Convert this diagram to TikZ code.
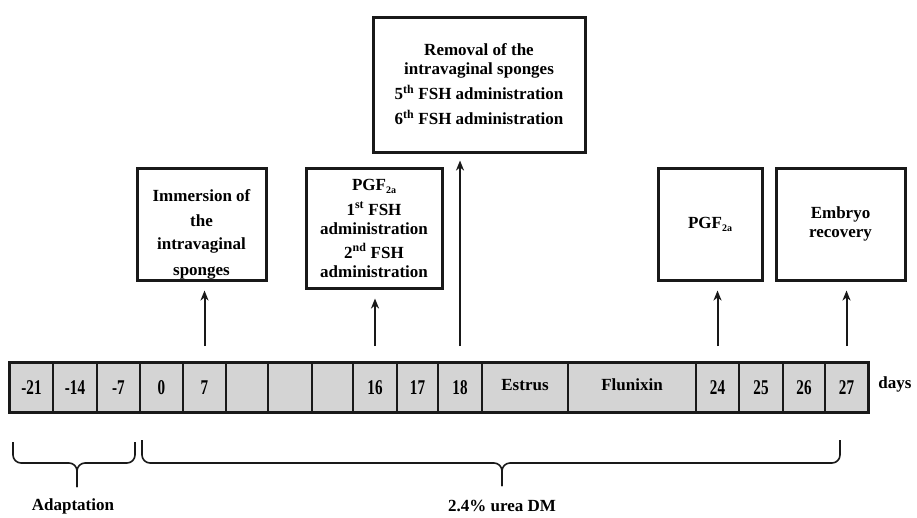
\documentclass[tikz,border=0pt]{standalone}
\usepackage{fontspec}
\setmainfont{Liberation Serif}
\usepackage{graphicx}
\usepackage{tikz}
\usetikzlibrary{arrows.meta}
\def\boxedge{3}
\def\baredge{2.4}
\def\celledge{1.6}
\def\arrowedge{2}
\definecolor{edgeblack}{rgb}{0.1,0.1,0.1}
\definecolor{cellgray}{rgb}{0.83,0.83,0.83}
\newcommand{\dayno}[1]{\scalebox{0.72}[1]{\fontsize{21}{21}\selectfont #1}}
\newcommand{\pgfsub}{PGF\raisebox{-3pt}{\fontsize{10}{10}\selectfont 2a}}

\begin{document}
\begin{tikzpicture}[x = 1pt, y = -1pt,
    daycell/.style={draw=edgeblack, line width=\celledge, fill=cellgray, minimum height=49, inner sep=0pt, font=\bfseries\fontsize{17}{17}\selectfont},
    eventbox/.style={draw=edgeblack, line width=\boxedge, inner sep=0pt, align=center, font=\bfseries\fontsize{17}{19}\selectfont},
    boxtext/.style={inner sep=0pt, align=center, font=\bfseries\fontsize{17}{19}\selectfont},
    eventarrow/.style={-{Stealth[length=10pt,width=8pt,inset=3pt]}, line width=\arrowedge, color=edgeblack, shorten <=16pt},
    bracepath/.style={line width=1.6, rounded corners=8pt, color=edgeblack}]
        \useasboundingbox (0,0) rectangle (917,517);

            \node [daycell, minimum width=43] (c21) at (31.5,387.5){\dayno{-21}};
            \node [daycell, minimum width=44] (c14) at (75,387.5){\dayno{-14}};
            \node [daycell, minimum width=43] (cm7) at (118.5,387.5){\dayno{-7}};
            \node [daycell, minimum width=43] (c0) at (161.5,387.5){\dayno{0}};
            \node [daycell, minimum width=43] (c7) at (204.5,387.5){\dayno{7}};
            \node [daycell, minimum width=42] (e1) at (247,387.5){};
            \node [daycell, minimum width=44] (e2) at (290,387.5){};
            \node [daycell, minimum width=41] (e3) at (332.5,387.5){};
            \node [daycell, minimum width=44] (c16) at (375,387.5){\dayno{16}};
            \node [daycell, minimum width=41] (c17) at (417.5,387.5){\dayno{17}};
            \node [daycell, minimum width=44] (c18) at (460,387.5){\dayno{18}};
            \node [daycell, minimum width=86] (estrus) at (525,387.5){\raisebox{6pt}{Estrus}};
            \node [daycell, minimum width=128] (flunixin) at (632,387.5){\raisebox{6pt}{Flunixin}};
            \node [daycell, minimum width=43] (c24) at (717.5,387.5){\dayno{24}};
            \node [daycell, minimum width=44] (c25) at (761,387.5){\dayno{25}};
            \node [daycell, minimum width=42] (c26) at (804,387.5){\dayno{26}};
            \node [daycell, minimum width=43] (c27) at (846.5,387.5){\dayno{27}};
        \draw [line width=\baredge,color=edgeblack] (c21.north west) rectangle (c27.south east);

        \node [boxtext] (days) at (895,384){days};

        \node [eventbox, minimum width=212, minimum height=135] (removal) at (479,84.5){Removal of the\\intravaginal sponges\\[6pt]5\textsuperscript{th} FSH administration\\[6pt]6\textsuperscript{th} FSH administration};

        \node [eventbox, minimum width=129, minimum height=112] (immersion) at (201.5,224){};
        \node [boxtext] (immersiontext) at (201.5,234){Immersion of\\[6pt]the\\[4pt]intravaginal\\[7pt]sponges};

        \node [eventbox, minimum width=136, minimum height=120] (pgf) at (374,228){\pgfsub\\[6pt]1\textsuperscript{st} FSH\\administration\\[5pt]2\textsuperscript{nd} FSH\\administration};

        \node [eventbox, minimum width=104, minimum height=112] (pgfb) at (710,224){\pgfsub};
        \node [eventbox, minimum width=129, minimum height=112] (embryo) at (840.5,224){Embryo\\recovery};

        \draw [eventarrow, shorten >=9pt] (c7.north) -- (c7.north |- immersion.south);
        \draw [eventarrow, shorten >=9pt] (c16.north) -- (c16.north |- pgf.south);
        \draw [eventarrow, shorten >=7pt] (c18.north) -- (c18.north |- removal.south);
        \draw [eventarrow, shorten >=9pt] (c24.north) -- (c24.north |- pgfb.south);
        \draw [eventarrow, shorten >=9pt] (c27.north) -- (c27.north |- embryo.south);

        % braces under the bar
        \coordinate (adL) at (13,442);
        \coordinate (adR) at (135,442);
        \coordinate (adMid) at (77,463);
        \coordinate (adTip) at (77,487);
        \draw [bracepath] (adL) |- (adMid) -- (adTip);
        \draw [bracepath] (adR) |- (adMid) -- (adTip);

        \coordinate (urL) at (142,440);
        \coordinate (urR) at (840,440);
        \coordinate (urMid) at (502,463);
        \coordinate (urTip) at (502,486);
        \draw [bracepath] (urL) |- (urMid) -- (urTip);
        \draw [bracepath] (urR) |- (urMid) -- (urTip);

        \node [boxtext] (adaptation) at (73,506){Adaptation};
        \node [boxtext] (urea) at (502,506){2.4\% urea DM};

\end{tikzpicture}
\end{document}
